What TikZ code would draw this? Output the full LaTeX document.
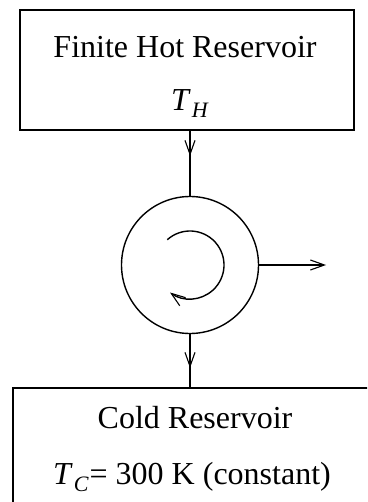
\documentclass[tikz,border=0pt]{standalone}
\usepackage{fontspec}
\setmainfont{Liberation Serif}
\usetikzlibrary{arrows.meta}
\begin{document}
\begin{tikzpicture}[x=1pt,y=1pt,
  box/.style={draw,line width=1.7pt,rectangle,inner sep=0pt},
  lbl/.style={font=\fontsize{32}{36}\selectfont,inner sep=0pt},
  tip/.style={-{Straight Barb[length=14pt,width=10pt,line width=1.1pt]}},
  conn/.style={line width=1.4pt}]
\useasboundingbox (0,0) rectangle (367,-502);
\clip (0,0) rectangle (367,-502);
\node[box,minimum width=334pt,minimum height=120pt] (hot) at (187,-70) {};
\node[lbl] (hotname) at (185,-47) {Finite Hot Reservoir};
\node[lbl] (th) at (190,-104) {\textit{T}\kern1pt\raisebox{-7pt}{\fontsize{22}{24}\selectfont\textit{H}}};
\node[box,minimum width=380pt,minimum height=160pt,anchor=north west] (cold) at (12,-387) {};
\node[lbl] (coldname) at (195,-418) {Cold Reservoir};
\node[lbl] (tc) at (192,-477) {\textit{T}\kern1pt\raisebox{-7pt}{\fontsize{22}{24}\selectfont\textit{C}}\kern1pt= 300 K (constant)};
\node[draw,circle,line width=1.4pt,minimum size=137pt,inner sep=0pt] (eng) at (190,-265) {};
\coordinate (a1) at (190,-156);
\coordinate (a2) at (190,-368);
\coordinate (out) at (326,-265);
\draw[conn] (hot.south -| eng) -- (eng.north);
\draw[conn,tip] (hot.south -| eng) -- (a1);
\draw[conn] (eng.south) -- (cold.north -| eng);
\draw[conn,tip] (eng.south) -- (a2);
\draw[conn,tip] (eng.east) -- (out);
\draw[conn,tip] (eng.center) ++(132:34) arc[start angle=132,end angle=-126,radius=34];
\end{tikzpicture}
\end{document}
